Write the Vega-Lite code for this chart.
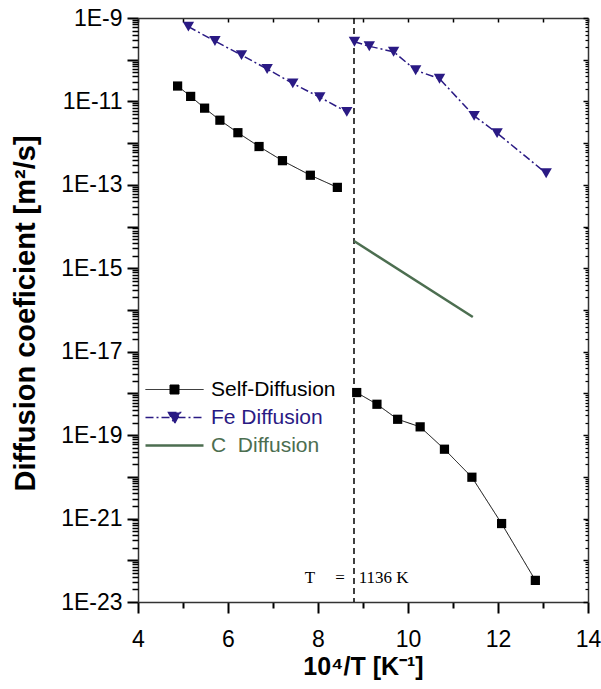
{
  "$schema": "https://vega.github.io/schema/vega-lite/v6.json",
  "width": 450,
  "height": 584,
  "autosize": {"type": "none"},
  "padding": {"left": 138, "top": 18, "right": 13, "bottom": 87},
  "background": "white",
  "config": {"view": {"stroke": null}, "font": "Liberation Sans", "axis": {"ticks": true}},
  "datasets": {
    "diff": [
      {"series": "Self-Diffusion", "seg": "s1", "x": 4.88, "D": 2.34e-11},
      {"series": "Self-Diffusion", "seg": "s1", "x": 5.17, "D": 1.32e-11},
      {"series": "Self-Diffusion", "seg": "s1", "x": 5.48, "D": 6.9e-12},
      {"series": "Self-Diffusion", "seg": "s1", "x": 5.82, "D": 3.55e-12},
      {"series": "Self-Diffusion", "seg": "s1", "x": 6.22, "D": 1.78e-12},
      {"series": "Self-Diffusion", "seg": "s1", "x": 6.69, "D": 8.3e-13},
      {"series": "Self-Diffusion", "seg": "s1", "x": 7.21, "D": 3.8e-13},
      {"series": "Self-Diffusion", "seg": "s1", "x": 7.83, "D": 1.7e-13},
      {"series": "Self-Diffusion", "seg": "s1", "x": 8.43, "D": 8.7e-14},
      {"series": "Self-Diffusion", "seg": "s2", "x": 8.86, "D": 1.05e-18},
      {"series": "Self-Diffusion", "seg": "s2", "x": 9.31, "D": 5.5e-19},
      {"series": "Self-Diffusion", "seg": "s2", "x": 9.77, "D": 2.4e-19},
      {"series": "Self-Diffusion", "seg": "s2", "x": 10.27, "D": 1.58e-19},
      {"series": "Self-Diffusion", "seg": "s2", "x": 10.81, "D": 4.6e-20},
      {"series": "Self-Diffusion", "seg": "s2", "x": 11.42, "D": 9.8e-21},
      {"series": "Self-Diffusion", "seg": "s2", "x": 12.08, "D": 7.6e-22},
      {"series": "Self-Diffusion", "seg": "s2", "x": 12.83, "D": 3.3e-23},
      {"series": "Fe Diffusion", "seg": "f1", "x": 5.12, "D": 6.2e-10},
      {"series": "Fe Diffusion", "seg": "f1", "x": 5.71, "D": 2.8e-10},
      {"series": "Fe Diffusion", "seg": "f1", "x": 6.30, "D": 1.29e-10},
      {"series": "Fe Diffusion", "seg": "f1", "x": 6.87, "D": 6.0e-11},
      {"series": "Fe Diffusion", "seg": "f1", "x": 7.44, "D": 2.7e-11},
      {"series": "Fe Diffusion", "seg": "f1", "x": 8.04, "D": 1.26e-11},
      {"series": "Fe Diffusion", "seg": "f1", "x": 8.64, "D": 5.6e-12},
      {"series": "Fe Diffusion", "seg": "f2", "x": 8.81, "D": 2.7e-10},
      {"series": "Fe Diffusion", "seg": "f2", "x": 9.14, "D": 2.1e-10},
      {"series": "Fe Diffusion", "seg": "f2", "x": 9.68, "D": 1.55e-10},
      {"series": "Fe Diffusion", "seg": "f2", "x": 10.17, "D": 5.6e-11},
      {"series": "Fe Diffusion", "seg": "f2", "x": 10.70, "D": 3.5e-11},
      {"series": "Fe Diffusion", "seg": "f2", "x": 11.47, "D": 4.5e-12},
      {"series": "Fe Diffusion", "seg": "f2", "x": 11.98, "D": 1.74e-12},
      {"series": "Fe Diffusion", "seg": "f2", "x": 13.07, "D": 1.9e-13},
      {"series": "C\u00a0 Diffusion", "seg": "c1", "x": 8.8, "D": 4.5e-15},
      {"series": "C\u00a0 Diffusion", "seg": "c1", "x": 11.44, "D": 6.8e-17}
    ],
    "annot": [
      {"x": 7.82, "D": 3.7e-23, "label": "T"},
      {"x": 8.49, "D": 3.7e-23, "label": "="},
      {"x": 9.46, "D": 3.7e-23, "label": "1136 K"}
    ],
    "vline": [{"x": 8.8}]
  },
  "resolve": {"axis": {"x": "independent", "y": "independent"}},
  "layer": [
    {
      "data": {"name": "vline"},
      "mark": {"type": "rule", "color": "#000000", "strokeWidth": 1.5, "strokeDash": [6, 4]},
      "encoding": {
        "x": {
          "field": "x", "type": "quantitative", "scale": {"domain": [4, 14], "nice": false, "zero": false},
          "axis": {"orient": "bottom", "values": [5, 7, 9, 11, 13], "ticks": true, "tickSize": 6, "labels": false, "title": null, "domain": false, "grid": false, "tickColor": "#000000", "tickWidth": 2}
        }
      }
    },
    {
      "data": {"name": "diff"},
      "transform": [{"filter": "datum.seg !== 'c1'"}],
      "mark": {"type": "line"},
      "encoding": {
        "x": {
          "field": "x", "type": "quantitative",
          "scale": {"domain": [4, 14], "nice": false, "zero": false},
          "axis": {
            "orient": "bottom",
            "values": [4, 6, 8, 10, 12, 14],
            "ticks": true, "tickSize": 11,
            "labelFontSize": 23, "labelPadding": 15, "labelColor": "#000000", "labelFont": "Liberation Sans",
            "labelOverlap": false, "labelFlush": false,
            "title": "10⁴/T [K⁻¹]", "titleFontSize": 25, "titleFontWeight": "bold", "titleFont": "Liberation Sans",
            "titleColor": "#000000", "titlePadding": 3,
            "grid": false, "domainColor": "#333333", "tickColor": "#000000", "domainWidth": 1.5, "tickWidth": 2
          }
        },
        "y": {
          "field": "D", "type": "quantitative",
          "scale": {"type": "log", "domain": [1e-23, 1e-9], "nice": false},
          "axis": {
            "orient": "left",
            "values": [1e-23,1e-22,1e-21,1e-20,1e-19,1e-18,1e-17,1e-16,1e-15,1e-14,1e-13,1e-12,1e-11,1e-10,1e-9],
            "labelExpr": "abs(round(log(datum.value)/LN10) % 2) == 1 ? '1E' + round(log(datum.value)/LN10) : ''",
            "ticks": true, "tickSize": 11,
            "labelFontSize": 23, "labelPadding": 5, "labelColor": "#000000", "labelFont": "Liberation Sans",
            "labelOverlap": false, "labelFlush": false,
            "title": "Diffusion coeficient [m²/s]", "titleFontSize": 29, "titleFontWeight": "bold", "titleFont": "Liberation Sans",
            "titleColor": "#000000", "titlePadding": 20, "titleY": 295,
            "grid": false, "domainColor": "#333333", "tickColor": "#000000", "domainWidth": 1.5, "tickWidth": 2
          }
        },
        "color": {
          "field": "series", "type": "nominal",
          "scale": {"domain": ["Self-Diffusion", "Fe Diffusion", "C\u00a0 Diffusion"], "range": ["#000000", "#2a1a84", "#4c6e50"]},
          "legend": {
            "orient": "none", "legendX": 26, "legendY": 361, "title": null, "padding": 0,
            "symbolSize": 400, "labelOffset": 26, "labelFontSize": 21, "labelFont": "Liberation Sans",
            "rowPadding": 6, "labelLimit": 300,
            "encode": {
              "symbols": {
                "update": {
                  "shape": {"signal": "datum.value === 'Self-Diffusion' ? 'M-2.9,0H2.9M-0.45,-0.45H0.45V0.45H-0.45Z' : datum.value === 'Fe Diffusion' ? 'M-2.9,0H2.9M-0.6,-0.5H0.6L0,0.6Z' : 'M-2.9,0H2.9'"},
                  "fill": {"signal": "datum.value === 'Self-Diffusion' ? '#000000' : datum.value === 'Fe Diffusion' ? '#2a1a84' : 'transparent'"},
                  "stroke": {"signal": "datum.value === 'Self-Diffusion' ? '#000000' : datum.value === 'Fe Diffusion' ? '#2a1a84' : '#4c6e50'"},
                  "strokeDash": {"signal": "datum.value === 'Fe Diffusion' ? [8,3,2,3] : [1,0]"},
                  "strokeWidth": {"signal": "datum.value === 'Self-Diffusion' ? 1 : datum.value === 'Fe Diffusion' ? 1.5 : 2.5"},
                  "size": {"value": 400},
                  "opacity": {"value": 1},
                  "fillOpacity": {"value": 1},
                  "strokeOpacity": {"value": 1}
                }
              },
              "labels": {
                "update": {
                  "fill": {"signal": "datum.value === 'Self-Diffusion' ? '#000000' : datum.value === 'Fe Diffusion' ? '#2a1a84' : '#4c6e50'"}
                }
              }
            }
          }
        },
        "strokeDash": {
          "field": "series", "type": "nominal",
          "scale": {"domain": ["Self-Diffusion", "Fe Diffusion"], "range": [[1, 0], [8, 3, 2, 3]]},
          "legend": null
        },
        "strokeWidth": {
          "field": "series", "type": "nominal",
          "scale": {"domain": ["Self-Diffusion", "Fe Diffusion"], "range": [1, 1.5]},
          "legend": null
        },
        "detail": {"field": "seg", "type": "nominal"}
      }
    },
    {
      "data": {"name": "diff"},
      "transform": [{"filter": "datum.seg === 'c1'"}],
      "mark": {"type": "line", "strokeWidth": 2.5},
      "encoding": {
        "x": {
          "field": "x", "type": "quantitative",
          "scale": {"domain": [4, 14], "nice": false, "zero": false},
          "axis": {
            "orient": "top", "values": [4, 5, 6, 7, 8, 9, 10, 11, 12, 13, 14],
            "labels": false, "title": null, "grid": false, "ticks": true, "tickSize": -4,
            "domainColor": "#333333", "tickColor": "#000000", "domainWidth": 1.5, "tickWidth": 1.5
          }
        },
        "y": {
          "field": "D", "type": "quantitative",
          "scale": {"type": "log", "domain": [1e-23, 1e-9], "nice": false},
          "axis": {
            "orient": "left",
            "values": [2e-23,3e-23,4e-23,5e-23,6e-23,7e-23,8e-23,9e-23,2e-22,3e-22,4e-22,5e-22,6e-22,7e-22,8e-22,9e-22,2e-21,3e-21,4e-21,5e-21,6e-21,7e-21,8e-21,9e-21,2e-20,3e-20,4e-20,5e-20,6e-20,7e-20,8e-20,9e-20,2e-19,3e-19,4e-19,5e-19,6e-19,7e-19,8e-19,9e-19,2e-18,3e-18,4e-18,5e-18,6e-18,7e-18,8e-18,9e-18,2e-17,3e-17,4e-17,5e-17,6e-17,7e-17,8e-17,9e-17,2e-16,3e-16,4e-16,5e-16,6e-16,7e-16,8e-16,9e-16,2e-15,3e-15,4e-15,5e-15,6e-15,7e-15,8e-15,9e-15,2e-14,3e-14,4e-14,5e-14,6e-14,7e-14,8e-14,9e-14,2e-13,3e-13,4e-13,5e-13,6e-13,7e-13,8e-13,9e-13,2e-12,3e-12,4e-12,5e-12,6e-12,7e-12,8e-12,9e-12,2e-11,3e-11,4e-11,5e-11,6e-11,7e-11,8e-11,9e-11,2e-10,3e-10,4e-10,5e-10,6e-10,7e-10,8e-10,9e-10],
            "labels": false, "title": null, "grid": false, "domain": false, "ticks": true, "tickSize": 6,
            "tickColor": "#000000", "tickWidth": 1.5
          }
        },
        "color": {"field": "series", "type": "nominal", "scale": {"domain": ["Self-Diffusion", "Fe Diffusion", "C\u00a0 Diffusion"], "range": ["#000000", "#2a1a84", "#4c6e50"]}}
      }
    },
    {
      "data": {"name": "diff"},
      "transform": [{"filter": "datum.seg !== 'c1'"}],
      "mark": {"type": "point", "filled": true, "opacity": 1},
      "encoding": {
        "x": {"field": "x", "type": "quantitative", "scale": {"domain": [4, 14], "nice": false, "zero": false}, "axis": null},
        "y": {
          "field": "D", "type": "quantitative",
          "scale": {"type": "log", "domain": [1e-23, 1e-9], "nice": false},
          "axis": {
            "orient": "right",
            "values": [1e-23,1e-22,1e-21,1e-20,1e-19,1e-18,1e-17,1e-16,1e-15,1e-14,1e-13,1e-12,1e-11,1e-10,1e-9],
            "labels": false, "title": null, "grid": false, "ticks": true, "tickSize": -5,
            "domainColor": "#333333", "tickColor": "#000000", "domainWidth": 1.5, "tickWidth": 1.5
          }
        },
        "color": {"field": "series", "type": "nominal", "scale": {"domain": ["Self-Diffusion", "Fe Diffusion", "C\u00a0 Diffusion"], "range": ["#000000", "#2a1a84", "#4c6e50"]}},
        "shape": {
          "field": "series", "type": "nominal",
          "scale": {"domain": ["Self-Diffusion", "Fe Diffusion"], "range": ["square", "triangle-down"]},
          "legend": null
        },
        "size": {
          "field": "series", "type": "nominal",
          "scale": {"domain": ["Self-Diffusion", "Fe Diffusion"], "range": [85, 130]},
          "legend": null
        }
      }
    },
    {
      "data": {"name": "annot"},
      "mark": {"type": "text", "font": "Liberation Serif", "fontSize": 17, "color": "#000000", "align": "center", "baseline": "middle"},
      "encoding": {
        "x": {"field": "x", "type": "quantitative", "scale": {"domain": [4, 14], "nice": false, "zero": false}, "axis": null},
        "y": {
          "field": "D", "type": "quantitative", "scale": {"type": "log", "domain": [1e-23, 1e-9], "nice": false},
          "axis": {
            "orient": "right",
            "values": [2e-23,3e-23,4e-23,5e-23,6e-23,7e-23,8e-23,9e-23,2e-22,3e-22,4e-22,5e-22,6e-22,7e-22,8e-22,9e-22,2e-21,3e-21,4e-21,5e-21,6e-21,7e-21,8e-21,9e-21,2e-20,3e-20,4e-20,5e-20,6e-20,7e-20,8e-20,9e-20,2e-19,3e-19,4e-19,5e-19,6e-19,7e-19,8e-19,9e-19,2e-18,3e-18,4e-18,5e-18,6e-18,7e-18,8e-18,9e-18,2e-17,3e-17,4e-17,5e-17,6e-17,7e-17,8e-17,9e-17,2e-16,3e-16,4e-16,5e-16,6e-16,7e-16,8e-16,9e-16,2e-15,3e-15,4e-15,5e-15,6e-15,7e-15,8e-15,9e-15,2e-14,3e-14,4e-14,5e-14,6e-14,7e-14,8e-14,9e-14,2e-13,3e-13,4e-13,5e-13,6e-13,7e-13,8e-13,9e-13,2e-12,3e-12,4e-12,5e-12,6e-12,7e-12,8e-12,9e-12,2e-11,3e-11,4e-11,5e-11,6e-11,7e-11,8e-11,9e-11,2e-10,3e-10,4e-10,5e-10,6e-10,7e-10,8e-10,9e-10],
            "labels": false, "title": null, "grid": false, "domain": false, "ticks": true, "tickSize": -3,
            "tickColor": "#000000", "tickWidth": 1.2
          }
        },
        "text": {"field": "label", "type": "nominal"}
      }
    }
  ]
}
